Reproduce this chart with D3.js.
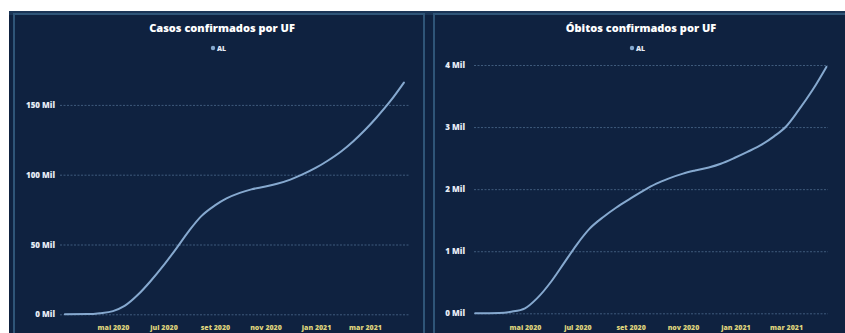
<!DOCTYPE html>
<html>
<head>
<meta charset="utf-8">
<script src="https://cdn.jsdelivr.net/npm/d3@7"></script>
<style>
  html, body { margin: 0; padding: 0; background: #ffffff; }
  svg { display: block; }
  text { font-family: "Open Sans", "Noto Sans", sans-serif; }
</style>
</head>
<body>
<svg id="chart" width="845" height="333"></svg>
<script>
// Dates of the cumulative series (semi-monthly snapshots)
const dates = [
  "2020-03-04", "2020-04-01", "2020-04-15", "2020-05-01", "2020-05-15",
  "2020-06-01", "2020-06-15", "2020-07-01", "2020-07-15", "2020-08-01",
  "2020-08-15", "2020-09-01", "2020-09-15", "2020-10-01", "2020-10-15",
  "2020-11-01", "2020-11-15", "2020-12-01", "2020-12-15", "2021-01-01",
  "2021-01-15", "2021-02-01", "2021-02-15", "2021-03-01", "2021-03-15",
  "2021-04-01", "2021-04-17"
];

// Confirmed cases in AL (thousands)
const casos = [
  0, 0.15, 0.8, 2.3, 6,
  14.5, 23.5, 35, 46, 60,
  70, 78, 83, 87, 89.5,
  91.5, 93.5, 96.5, 100, 105,
  110, 117, 124, 132, 141,
  153, 166
];

// Confirmed deaths in AL (thousands)
const obitos = [
  0, 0.005, 0.025, 0.08, 0.24,
  0.52, 0.8, 1.12, 1.36, 1.56,
  1.7, 1.85, 1.97, 2.09, 2.17,
  2.25, 2.3, 2.35, 2.41, 2.51,
  2.6, 2.72, 2.85, 3.01, 3.26,
  3.6, 3.97
];

// Axis ticks
const xTickDates = ["2020-05-01", "2020-07-01", "2020-09-01", "2020-11-01", "2021-01-01", "2021-03-01"];
const xTickLabels = ["mai 2020", "jul 2020", "set 2020", "nov 2020", "jan 2021", "mar 2021"];
const casosTicks = [0, 50, 100, 150];
const obitosTicks = [0, 1, 2, 3, 4];

const parse = d3.timeParse("%Y-%m-%d");
const dateDomain = [parse("2020-03-01"), parse("2021-04-20")];

const svg = d3.select("#chart");

// Dashboard canvas
svg.append("rect").attr("x", 9).attr("y", 11).attr("width", 836).attr("height", 322).attr("fill", "#0f2240");
svg.append("rect").attr("x", 9).attr("y", 11).attr("width", 836).attr("height", 4).attr("fill", "#1b3556");

function panel(cfg) {
  const g = svg.append("g");

  // panel frame
  g.append("rect")
    .attr("x", cfg.frame[0]).attr("y", cfg.frame[1])
    .attr("width", cfg.frame[2]).attr("height", cfg.frame[3])
    .attr("fill", "#0f2240")
    .attr("stroke", "#2f5578").attr("stroke-width", 2);

  const x = d3.scaleTime().domain(dateDomain).range(cfg.xRange);
  const y = d3.scaleLinear().domain(cfg.yDomain).range(cfg.yRange);

  // horizontal gridlines + y labels
  const yAxis = d3.axisLeft(y)
    .tickValues(cfg.yTicks)
    .tickSize(-(cfg.gridRight - cfg.gridLeft))
    .tickPadding(cfg.gridLeft - cfg.labelRight)
    .tickFormat(d => d + " Mil");
  const ya = g.append("g")
    .attr("transform", `translate(${cfg.gridLeft},0)`)
    .call(yAxis);
  ya.select(".domain").remove();
  ya.selectAll(".tick line")
    .attr("stroke", "#3f5b7c").attr("stroke-width", 1)
    .attr("stroke-dasharray", "2,1.5");
  ya.selectAll(".tick text")
    .attr("fill", "#e6ecf5").attr("font-size", 8).attr("font-weight", 800);

  // x axis labels
  const xAxis = d3.axisBottom(x)
    .tickValues(xTickDates.map(parse))
    .tickSize(0)
    .tickPadding(0)
    .tickFormat((d, i) => xTickLabels[i]);
  const xa = g.append("g")
    .attr("transform", `translate(0,${cfg.xLabelY})`)
    .call(xAxis);
  xa.select(".domain").remove();
  xa.selectAll(".tick text")
    .attr("fill", "#ddd27c").attr("font-size", 7).attr("font-weight", 800);

  // series line
  const pts = dates.map((d, i) => ({ date: parse(d), v: cfg.values[i] }));
  const line = d3.line().x(d => x(d.date)).y(d => y(d.v)).curve(d3.curveMonotoneX);
  g.append("path")
    .datum(pts)
    .attr("d", line)
    .attr("fill", "none")
    .attr("stroke", "#86a9cf")
    .attr("stroke-width", 2)
    .attr("stroke-linecap", "round");

  // title
  g.append("text")
    .attr("x", cfg.center).attr("y", 32)
    .attr("text-anchor", "middle")
    .attr("fill", "#ffffff").attr("font-size", 11).attr("font-weight", 800)
    .text(cfg.title);

  // legend
  const lg = g.append("g").attr("transform", `translate(${cfg.center},48)`);
  lg.append("circle").attr("cx", -9).attr("cy", 0).attr("r", 2.2).attr("fill", "#86a9cf");
  lg.append("text").attr("x", -5).attr("y", 2.5)
    .attr("fill", "#e6ecf5").attr("font-size", 7).attr("font-weight", 800)
    .text("AL");
}

panel({
  frame: [14, 14, 410, 330],
  title: "Casos confirmados por UF",
  center: 222,
  values: casos,
  yDomain: [0, 150],
  yTicks: casosTicks,
  yRange: [314.3, 104.9],
  xRange: [62.4, 406.4],
  gridLeft: 60, gridRight: 410, labelRight: 55,
  xLabelY: 325
});

panel({
  frame: [434, 14, 420, 330],
  title: "Óbitos confirmados por UF",
  center: 641,
  values: obitos,
  yDomain: [0, 4],
  yTicks: obitosTicks,
  yRange: [313.3, 65],
  xRange: [472.6, 829],
  gridLeft: 474, gridRight: 828, labelRight: 465,
  xLabelY: 325
});
</script>
</body>
</html>
